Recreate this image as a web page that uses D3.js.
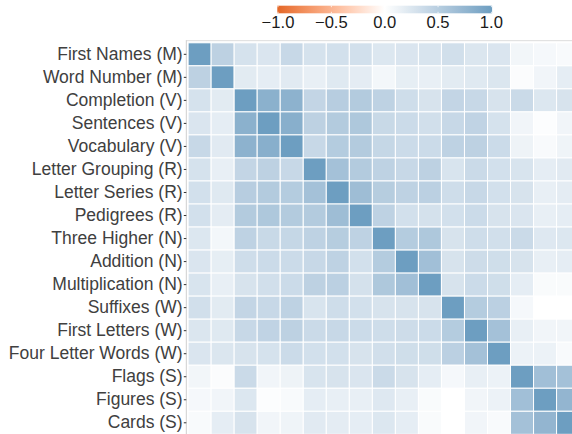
<!DOCTYPE html>
<html>
<head>
<meta charset="utf-8">
<script src="https://cdn.jsdelivr.net/npm/d3@7"></script>
<style>
  body { margin: 0; background: #fff; }
  svg { display: block; font-family: "Liberation Sans", Arial, sans-serif; }
</style>
</head>
<body>
<script>
var width = 572, height = 434

// variables, in plot order (top to bottom / left to right)
var labels = [
  "First Names (M)", "Word Number (M)", "Completion (V)", "Sentences (V)",
  "Vocabulary (V)", "Letter Grouping (R)", "Letter Series (R)", "Pedigrees (R)",
  "Three Higher (N)", "Addition (N)", "Multiplication (N)", "Suffixes (W)",
  "First Letters (W)", "Four Letter Words (W)", "Flags (S)", "Figures (S)", "Cards (S)"
]

// correlation matrix
var corr = [
  [1.00, .46, .29, .26, .39, .29, .31, .31, .24, .26, .27, .32, .25, .26, .09, .07, .05],
  [.46, 1.00, .20, .18, .21, .16, .22, .19, .08, .17, .16, .20, .22, .25, .03, .10, .18],
  [.29, .20, 1.00, .80, .79, .42, .50, .53, .45, .34, .28, .42, .39, .28, .37, .24, .28],
  [.26, .18, .80, 1.00, .82, .46, .53, .56, .38, .36, .32, .39, .44, .29, .10, .02, .10],
  [.39, .21, .79, .82, 1.00, .39, .52, .53, .40, .36, .36, .45, .46, .36, .12, .05, .11],
  [.29, .16, .42, .46, .39, 1.00, .63, .53, .45, .39, .46, .27, .37, .31, .27, .18, .21],
  [.31, .22, .50, .53, .52, .63, 1.00, .67, .51, .45, .47, .34, .39, .31, .28, .16, .19],
  [.31, .19, .53, .56, .53, .53, .67, 1.00, .45, .31, .30, .31, .36, .28, .26, .16, .18],
  [.24, .08, .45, .38, .40, .45, .51, .45, 1.00, .52, .56, .28, .34, .32, .37, .23, .24],
  [.26, .17, .34, .36, .36, .39, .45, .31, .52, 1.00, .65, .28, .35, .33, .28, .16, .18],
  [.27, .16, .28, .32, .36, .46, .47, .30, .56, .65, 1.00, .28, .36, .33, .18, .04, .04],
  [.32, .20, .42, .39, .45, .27, .34, .31, .28, .28, .28, 1.00, .52, .47, .07, .00, .00],
  [.25, .22, .39, .44, .46, .37, .39, .36, .34, .35, .36, .52, 1.00, .63, .16, .10, .10],
  [.26, .25, .28, .29, .36, .31, .31, .28, .32, .33, .33, .47, .63, 1.00, .13, .13, .05],
  [.09, .03, .37, .10, .12, .27, .28, .26, .37, .28, .18, .07, .16, .13, 1.00, .65, .63],
  [.07, .10, .24, .02, .05, .18, .16, .16, .23, .16, .04, .00, .10, .13, .65, 1.00, .75],
  [.05, .18, .28, .10, .11, .21, .19, .18, .24, .18, .04, .00, .10, .05, .63, .75, 1.00]
]

var legendTicks = [-1, -0.5, 0, 0.5, 1]

var cells = []
corr.forEach(function(row, i) {
  row.forEach(function(v, j) {
    cells.push({row: labels[i], col: labels[j], value: v})
  })
})

var svg = d3.select("body").append("svg")
  .attr("width", width).attr("height", height)

var step = 23.03
var x0 = 188.1, y0 = 42.8

var xScale = d3.scaleBand().domain(labels).range([x0, x0 + step * labels.length])
var yScale = d3.scaleBand().domain(labels).range([y0, y0 + step * labels.length])

var color = d3.scaleLinear()
  .domain([-1, 0, 1])
  .range(["#E46726", "#FFFFFF", "#6D9EC1"])
  .interpolate(d3.interpolateLab)

// tiles
svg.append("g")
  .selectAll("rect").data(cells)
  .enter().append("rect")
  .attr("x", d => xScale(d.col))
  .attr("y", d => yScale(d.row))
  .attr("width", xScale.bandwidth())
  .attr("height", yScale.bandwidth())
  .attr("fill", d => color(d.value))
  .attr("stroke", "#fff")
  .attr("stroke-width", 1)

// panel lines (top and left)
svg.append("line")
  .attr("x1", 186.3).attr("x2", width)
  .attr("y1", 40.7).attr("y2", 40.7)
  .attr("stroke", "#dcdcdc").attr("stroke-width", 1)
svg.append("line")
  .attr("x1", 186.3).attr("x2", 186.3)
  .attr("y1", 40.2).attr("y2", height)
  .attr("stroke", "#cfcfcf").attr("stroke-width", 1)

// y axis
var yAxis = d3.axisLeft(yScale).tickSize(2.5).tickPadding(1.2)
var ay = svg.append("g")
  .attr("transform", "translate(186.3,0)")
  .call(yAxis)
ay.select(".domain").remove()
ay.selectAll(".tick line").attr("stroke", "#333")
ay.selectAll(".tick text")
  .attr("fill", "#404040")
  .style("font-size", "17.5px")
  .style("font-family", "'Liberation Sans', Arial, sans-serif")

// colour bar legend
var lx = d3.scaleLinear().domain([-1, 1]).range([278.0, 491.4])
var grad = svg.append("defs").append("linearGradient")
  .attr("id", "cbar").attr("x1", "0%").attr("x2", "100%")
grad.selectAll("stop").data(d3.range(0, 1.0001, 0.02))
  .enter().append("stop")
  .attr("offset", d => (d * 100) + "%")
  .attr("stop-color", d => color(d * 2 - 1))

svg.append("rect")
  .attr("x", lx(-1) - 0.7).attr("y", 5.7)
  .attr("width", lx(1) - lx(-1) + 1.4).attr("height", 7.6)
  .attr("fill", "url(#cbar)")

var lg = svg.append("g")
lg.selectAll(".tk-top").data(legendTicks)
  .enter().append("line")
  .attr("x1", d => lx(d)).attr("x2", d => lx(d))
  .attr("y1", 5.7).attr("y2", 7.2)
  .attr("stroke", "#fff").attr("stroke-width", 0.8)
lg.selectAll(".tk-bot").data(legendTicks)
  .enter().append("line")
  .attr("x1", d => lx(d)).attr("x2", d => lx(d))
  .attr("y1", 11.8).attr("y2", 13.3)
  .attr("stroke", "#fff").attr("stroke-width", 0.8)
lg.selectAll("text").data(legendTicks)
  .enter().append("text")
  .attr("x", d => lx(d)).attr("y", 28.3)
  .attr("text-anchor", "middle")
  .attr("fill", "#1a1a1a")
  .style("font-size", "16.6px")
  .text(d => d3.format(".1f")(d).replace("-", "\u2212"))
</script>
</body>
</html>
